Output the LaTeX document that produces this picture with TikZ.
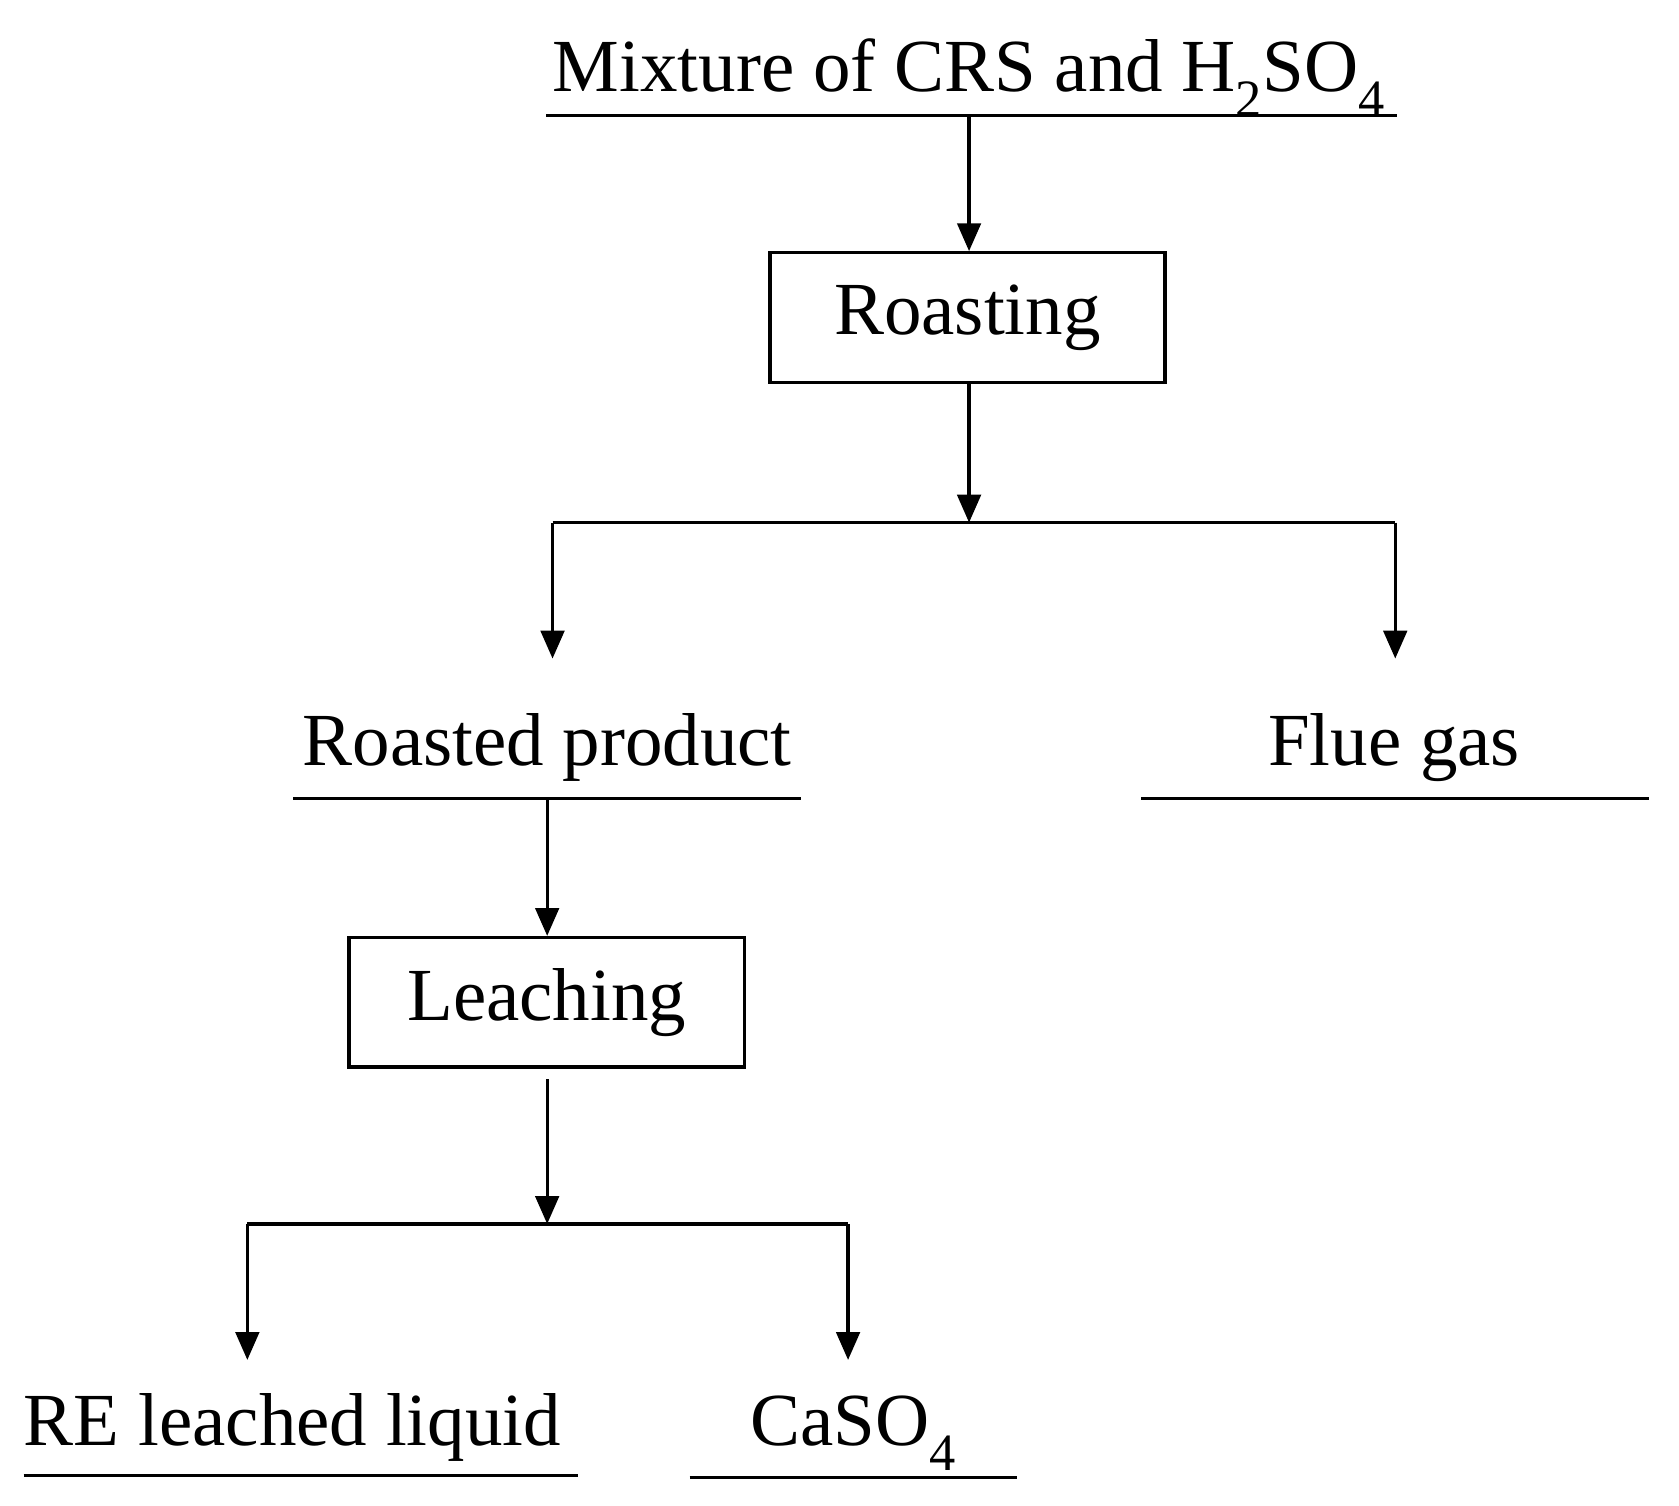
\documentclass[tikz,border=0pt]{standalone}
\usepackage{fontspec}
\setmainfont{Liberation Serif}
\usetikzlibrary{arrows.meta}
\begin{document}
\begin{tikzpicture}[x=1pt,y=-1pt,line width=3pt,
 lbl/.style={inner sep=0pt,anchor=base,font=\fontsize{70}{80}\selectfont},
 box/.style={draw,minimum width=369pt,minimum height=121pt,inner sep=0pt,font=\fontsize{70}{80}\selectfont},
 arr/.style={-{Triangle[length=26pt,width=22pt]}}]
\useasboundingbox (0,0) rectangle (1568,1406);
\node[lbl] (mix) at (905,85) {Mixture of CRS and H\textsubscript{2}SO\textsubscript{4}};
\coordinate (mixl) at (510,108); \coordinate (mixr) at (1305,108);
\draw (mixl) -- (mixr);
\node[box] (roast) at (903.5,296.5) {Roasting};
\coordinate (mixb) at (905,108);
\draw[arr] (mixb) -- (roast.north-|mixb);
\coordinate (j1) at (905,488);
\draw[arr] (roast.south-|j1) -- (j1);
\coordinate (j1l) at (516,488); \coordinate (j1r) at (1303,488);
\coordinate (rpt) at (516,615); \coordinate (fgt) at (1303,615);
\draw (j1l) -- (j1r);
\draw[arr] (j1l) -- (rpt);
\draw[arr] (j1r) -- (fgt);
\node[lbl] (rp) at (511,715) {Roasted product};
\draw (274,746) coordinate (rpl) -- (748,746) coordinate (rpr);
\node[lbl] (fg) at (1302,715) {Flue gas};
\draw (1066,746) coordinate (fgl) -- (1540,746) coordinate (fgr);
\node[box] (leach) at (510.5,936) {Leaching};
\coordinate (rpb) at (511,746);
\draw[arr] (rpb) -- (leach.north-|rpb);
\coordinate (lb) at (511,1008); \coordinate (j2) at (511,1143);
\draw[arr] (lb) -- (j2);
\coordinate (j2l) at (231,1143); \coordinate (j2r) at (792,1143);
\coordinate (ret) at (231,1270); \coordinate (cat) at (792,1270);
\draw (j2l) -- (j2r);
\draw[arr] (j2l) -- (ret);
\draw[arr] (j2r) -- (cat);
\node[lbl] (re) at (273,1350) {RE leached liquid};
\draw (22,1378) coordinate (rel) -- (540,1378) coordinate (rer);
\node[lbl] (ca) at (797,1350) {CaSO\textsubscript{4}};
\draw (644,1380) coordinate (cal) -- (950,1380) coordinate (car);
\end{tikzpicture}
\end{document}
